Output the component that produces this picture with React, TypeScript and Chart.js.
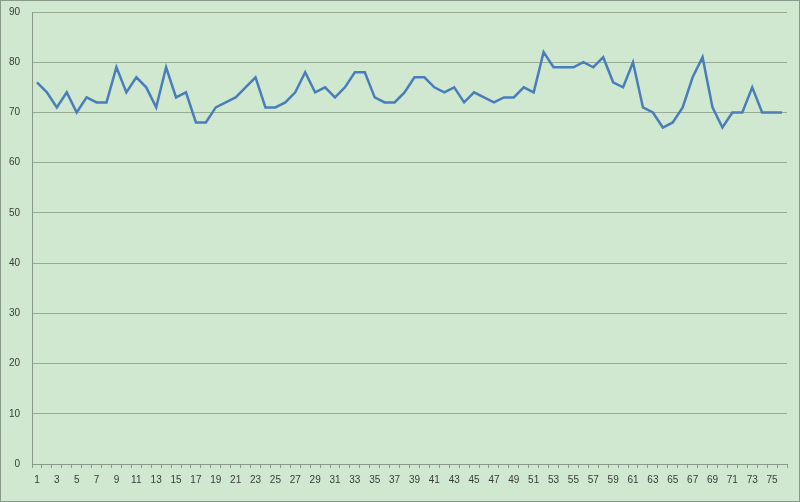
import React, { useEffect, useRef } from "react";
import { Chart, registerables } from "chart.js";

Chart.register(...registerables);

const categories: string[] = Array.from({ length: 76 }, (_, i) => String(i + 1));
const values: number[] = [
  76, 74, 71, 74, 70, 73, 72, 72, 79, 74,
  77, 75, 71, 79, 73, 74, 68, 68, 71, 72,
  73, 75, 77, 71, 71, 72, 74, 78, 74, 75,
  73, 75, 78, 78, 73, 72, 72, 74, 77, 77,
  75, 74, 75, 72, 74, 73, 72, 73, 73, 75,
  74, 82, 79, 79, 79, 80, 79, 81, 76, 75,
  80, 71, 70, 67, 68, 71, 77, 81, 71, 67,
  70, 70, 75, 70, 70, 70,
];
const yTicks: number[] = [0, 10, 20, 30, 40, 50, 60, 70, 80, 90];

const bgPlugin = {
  id: "bg",
  beforeDraw(chart: any) {
    const { ctx, width, height } = chart;
    ctx.save();
    ctx.fillStyle = "#d0e8d0";
    ctx.fillRect(0, 0, width, height);
    ctx.strokeStyle = "#8a9a8a";
    ctx.lineWidth = 1;
    ctx.strokeRect(0.5, 0.5, width - 1, height - 1);
    ctx.restore();
  },
};

export default function App() {
  const ref = useRef<HTMLCanvasElement | null>(null);
  useEffect(() => {
    if (!ref.current) return;
    const chart = new Chart(ref.current, {
      type: "line",
      data: {
        labels: categories,
        datasets: [
          {
            data: values,
            borderColor: "#4a7ebb",
            borderWidth: 2.5,
            pointRadius: 0,
            tension: 0,
            fill: false,
          },
        ],
      },
      plugins: [bgPlugin],
      options: {
        animation: false,
        responsive: false,
        maintainAspectRatio: false,
        layout: { padding: { top: 12, right: 13, bottom: 10, left: 0 } },
        plugins: { legend: { display: false }, tooltip: { enabled: false } },
        scales: {
          x: {
            type: "category",
            offset: true,
            grid: {
              offset: true,
              drawOnChartArea: false,
              drawTicks: true,
              tickLength: 4,
              color: "#8a9a8a",
            },
            border: { display: true, color: "#8a9a8a" },
            ticks: {
              autoSkip: false,
              maxRotation: 0,
              minRotation: 0,
              padding: 6,
              color: "#3a3a3a",
              font: { family: "Liberation Sans", size: 10 },
              callback: (_v: any, i: number) => (i % 2 === 0 ? categories[i] : ""),
            },
            afterFit: (s: any) => {
              s.height = 28;
              s.paddingLeft = 0;
              s.paddingRight = 0;
            },
          },
          y: {
            min: 0,
            max: 90,
            afterBuildTicks: (s: any) => {
              s.ticks = yTicks.map((v) => ({ value: v }));
            },
            grid: {
              color: "#97ab94",
              lineWidth: 1,
              drawTicks: false,
            },
            border: { display: true, color: "#8a9a8a" },
            ticks: {
              padding: 12,
              color: "#3a3a3a",
              font: { family: "Liberation Sans", size: 10 },
            },
            afterFit: (s: any) => {
              s.width = 32;
              s.paddingTop = 0;
              s.paddingBottom = 0;
            },
          },
        },
      },
    });
    return () => chart.destroy();
  }, []);
  return (
    <div style={{ position: "fixed", left: 0, top: 0, width: 800, height: 502 }}>
      <canvas ref={ref} width={800} height={502} style={{ display: "block" }} />
    </div>
  );
}
